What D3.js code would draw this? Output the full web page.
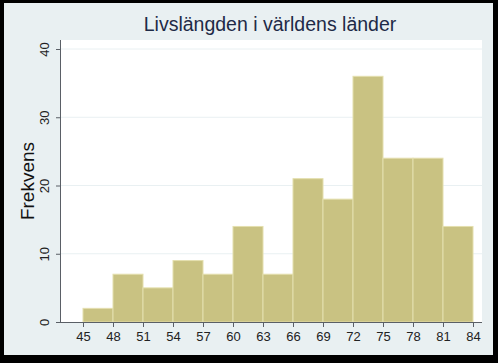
<!DOCTYPE html>
<html>
<head>
<meta charset="utf-8">
<title>Livslängden</title>
<style>
  body { margin: 0; background: #000; }
  svg text { font-family: "Liberation Sans", Arial, sans-serif; }
  .axis path, .axis line { stroke: #5a5f66; }
  .axis text { fill: #222; font-size: 13px; }
</style>
</head>
<body>
<svg id="chart"></svg>
<script src="https://d3js.org/d3.v7.min.js"></script>
<script>
// histogram bins (left edges), width 3 years
var binStarts = [45, 48, 51, 54, 57, 60, 63, 66, 69, 72, 75, 78, 81];
var counts    = [2, 7, 5, 9, 7, 14, 7, 21, 18, 36, 24, 24, 14];
var binWidth = 3;
var xTicks = [45, 48, 51, 54, 57, 60, 63, 66, 69, 72, 75, 78, 81, 84];
var yTicks = [0, 10, 20, 30, 40];
var titleText = "Livslängden i världens länder";
var yLabel = "Frekvens";

var W = 498, H = 363;
var svg = d3.select("#chart").attr("width", W).attr("height", H);

svg.append("rect").attr("width", W).attr("height", H).attr("fill", "#000");
svg.append("rect")
    .attr("x", 4).attr("y", 3)
    .attr("width", 489).attr("height", 352)
    .attr("fill", "#e9f0f2");

var plot = { left: 61, right: 482, top: 40, bottom: 322 };
svg.append("rect")
    .attr("x", plot.left).attr("y", plot.top)
    .attr("width", plot.right - plot.left).attr("height", plot.bottom - plot.top)
    .attr("fill", "#fff");

var x = d3.scaleLinear().domain([45, 84]).range([83, 473]);
var y = d3.scaleLinear().domain([0, 40]).range([322, 49]);

// grid lines
svg.append("g").selectAll("line")
    .data(yTicks.filter(function(d) { return d > 0; }))
    .enter().append("line")
    .attr("x1", plot.left).attr("x2", plot.right)
    .attr("y1", function(d) { return y(d); })
    .attr("y2", function(d) { return y(d); })
    .attr("stroke", "#e9f0f2").attr("stroke-width", 1);

// bars
svg.append("g").selectAll("rect")
    .data(binStarts)
    .enter().append("rect")
    .attr("x", function(d) { return x(d); })
    .attr("y", function(d, i) { return y(counts[i]); })
    .attr("width", function(d) { return x(d + binWidth) - x(d); })
    .attr("height", function(d, i) { return y(0) - y(counts[i]); })
    .attr("fill", "#c9c282")
    .attr("stroke", "#e4dfae")
    .attr("stroke-width", 1);

// x axis
var gx = svg.append("g").attr("class", "axis")
    .attr("transform", "translate(0," + plot.bottom + ")")
    .call(d3.axisBottom(x).tickValues(xTicks).tickSize(5).tickSizeOuter(0).tickPadding(5));
gx.select(".domain").attr("d", "M" + plot.left + ",0.5H" + plot.right);

// y axis
var gy = svg.append("g").attr("class", "axis")
    .attr("transform", "translate(" + plot.left + ",0)")
    .call(d3.axisLeft(y).tickValues(yTicks).tickSize(5).tickSizeOuter(0));
gy.select(".domain").attr("d", "M-0.5," + plot.top + "V" + plot.bottom);
gy.selectAll(".tick text")
    .attr("x", 0).attr("dy", 0)
    .attr("transform", "translate(-12,0) rotate(-90)")
    .style("text-anchor", "middle");

// title
svg.append("text")
    .attr("x", 270).attr("y", 31)
    .attr("text-anchor", "middle")
    .attr("fill", "#1e2a47")
    .style("font-size", "19.5px")
    .text(titleText);

// y label
svg.append("text")
    .attr("transform", "translate(34,181) rotate(-90)")
    .attr("text-anchor", "middle")
    .attr("fill", "#111")
    .style("font-size", "19px")
    .text(yLabel);
</script>
</body>
</html>
